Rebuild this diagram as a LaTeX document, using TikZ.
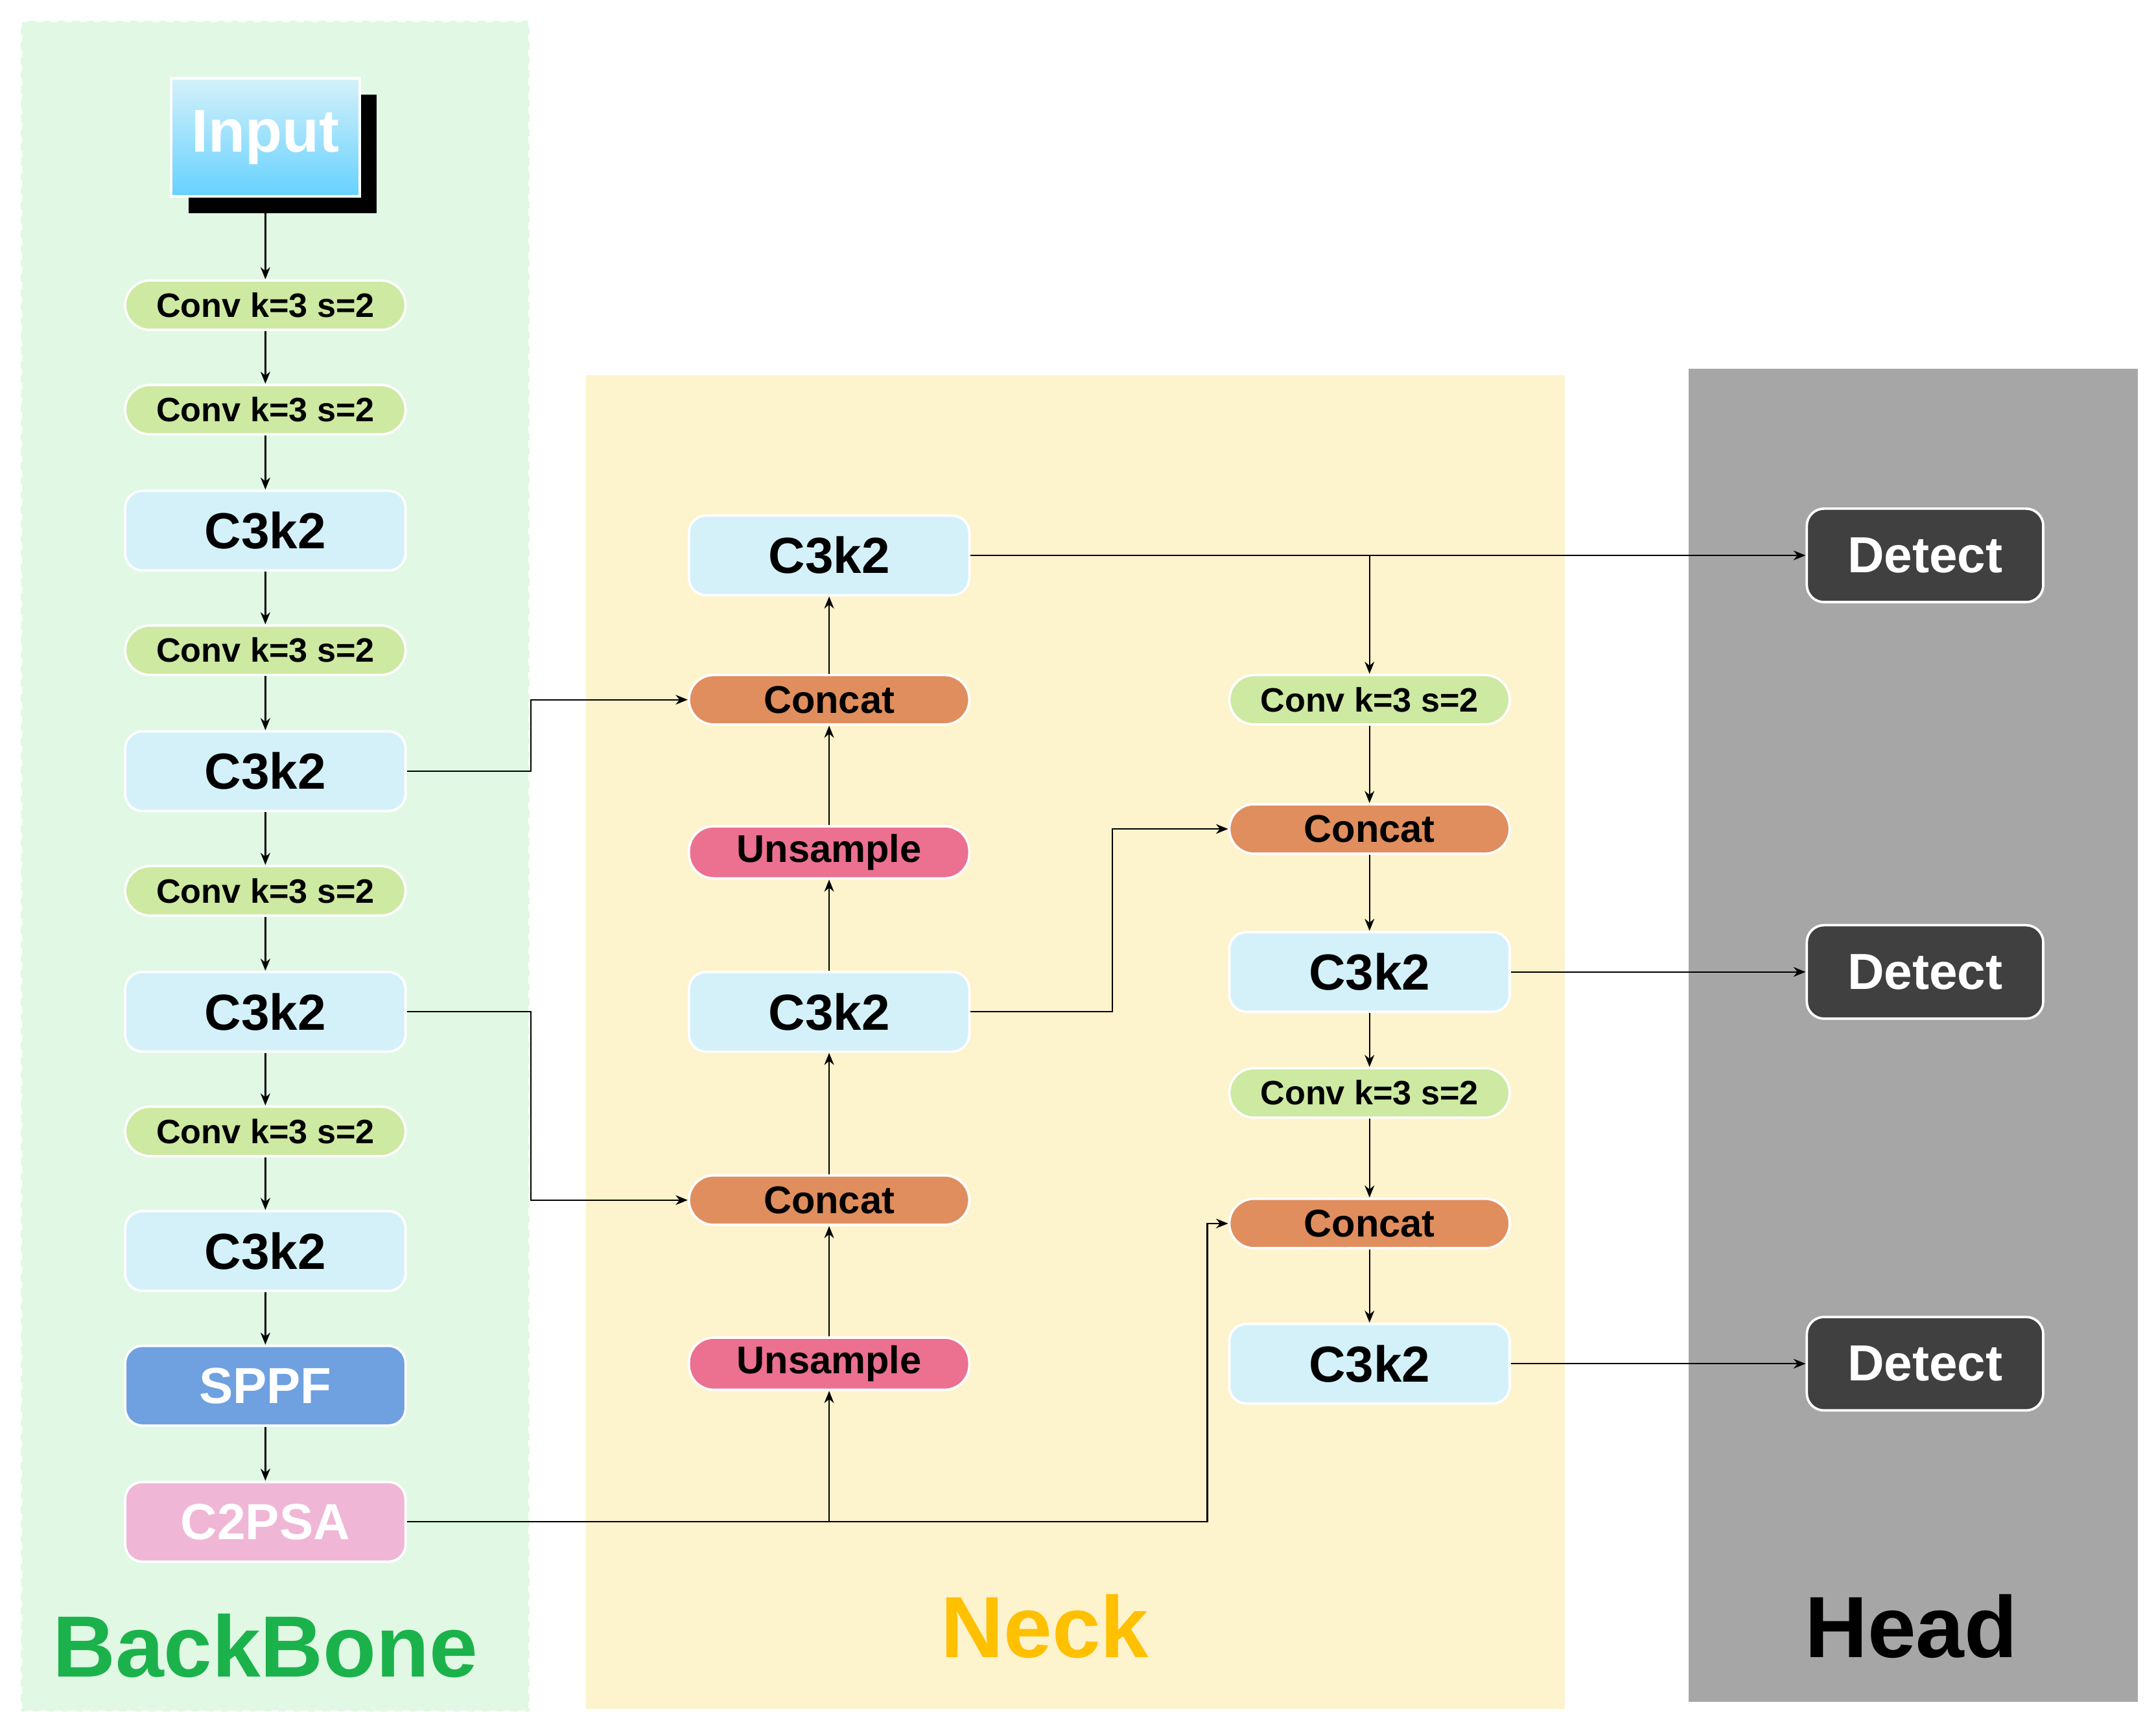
\documentclass[tikz,border=0pt]{standalone}
\usepackage{fontspec}
\setmainfont{Liberation Sans}
\usetikzlibrary{arrows.meta,shadows}
\definecolor{bbg}{HTML}{E0F8E4}
\definecolor{nbg}{HTML}{FDF3CC}
\definecolor{hbg}{HTML}{A6A6A6}
\definecolor{convc}{HTML}{CDE9A2}
\definecolor{c3c}{HTML}{D4F1FA}
\definecolor{catc}{HTML}{E08E5E}
\definecolor{upc}{HTML}{EC7090}
\definecolor{sppfc}{HTML}{6FA0E0}
\definecolor{psac}{HTML}{F0B6D6}
\definecolor{detc}{HTML}{404040}
\begin{document}
\begin{tikzpicture}[x=0.02cm,y=-0.02cm,
  box/.style={draw=white,line width=1pt,minimum width=4.08cm,font=\bfseries},
  conv/.style={box,fill=convc,rounded corners=0.36cm,minimum height=0.72cm,font=\bfseries\fontsize{14}{14}\selectfont},
  c3/.style={box,fill=c3c,rounded corners=0.25cm,minimum height=1.16cm,font=\bfseries\fontsize{21}{21}\selectfont},
  cat/.style={conv,fill=catc,font=\bfseries\fontsize{16}{16}\selectfont},
  up/.style={cat,fill=upc},
  det/.style={box,fill=detc,text=white,rounded corners=0.25cm,minimum width=3.44cm,minimum height=1.36cm,font=\bfseries\fontsize{21}{21}\selectfont},
  ar/.style={-{Stealth[length=5pt,width=4pt]},line width=0.6pt},
  big/.style={font=\bfseries\fontsize{36}{36}\selectfont}]
\useasboundingbox (0,0) rectangle (1568,1259);
\fill[bbg] (15,15) rectangle (385,1245);
\draw[white,dashed,line width=1pt] (15,15) rectangle (385,1245);
\fill[nbg] (426,273) rectangle (1138,1243);
\fill[hbg] (1228,268) rectangle (1555,1238);
% backbone
\fill[black] (137,69) rectangle (274,155);
\node[draw=white,line width=1pt,minimum width=2.74cm,minimum height=1.72cm,top color=c3c,bottom color=cyan!70!blue!60,text=white,font=\bfseries\fontsize{25}{25}\selectfont] (in) at (193,100) {Input};
\node[conv] (b1) at (193,222) {Conv k=3 s=2};
\node[conv] (b2) at (193,298) {Conv k=3 s=2};
\node[c3] (b3) at (193,386) {C3k2};
\node[conv] (b4) at (193,473) {Conv k=3 s=2};
\node[c3] (b5) at (193,561) {C3k2};
\node[conv] (b6) at (193,648) {Conv k=3 s=2};
\node[c3] (b7) at (193,736) {C3k2};
\node[conv] (b8) at (193,823) {Conv k=3 s=2};
\node[c3] (b9) at (193,910) {C3k2};
\node[c3,fill=sppfc,text=white] (b10) at (193,1008) {SPPF};
\node[c3,fill=psac,text=white] (b11) at (193,1107) {C2PSA};
\node[big,text={rgb,255:red,27;green,178;blue,75}] (lb) at (193,1197) {BackBone};
\foreach \a/\b in {in/b1,b1/b2,b2/b3,b3/b4,b4/b5,b5/b6,b6/b7,b7/b8,b8/b9,b9/b10,b10/b11}
  \draw[ar] (\a) -- (\b);
% neck
\node[c3] (n1) at (603,404) {C3k2};
\node[cat] (n2) at (603,509) {Concat};
\node[up] (n3) at (603,620) {Unsample};
\node[c3] (n4) at (603,736) {C3k2};
\node[cat] (n5) at (603,873) {Concat};
\node[up] (n6) at (603,992) {Unsample};
\node[conv] (m1) at (996,509) {Conv k=3 s=2};
\node[cat] (m2) at (996,603) {Concat};
\node[c3] (m3) at (996,707) {C3k2};
\node[conv] (m4) at (996,795) {Conv k=3 s=2};
\node[cat] (m5) at (996,890) {Concat};
\node[c3] (m6) at (996,992) {C3k2};
\node[big,text={rgb,255:red,255;green,192;blue,0}] (ln) at (760,1183) {Neck};
\foreach \a/\b in {n6/n5,n5/n4,n4/n3,n3/n2,n2/n1,m1/m2,m2/m3,m3/m4,m4/m5,m5/m6}
  \draw[ar] (\a) -- (\b);
% head
\node[det] (d1) at (1400,404) {Detect};
\node[det] (d2) at (1400,707) {Detect};
\node[det] (d3) at (1400,992) {Detect};
\node[big] (lh) at (1390,1183) {Head};
% cross links
\coordinate (j1) at (603,1107);
\coordinate (j2) at (996,404);
\draw[ar] (b5.east) -| (386,509) -- (n2.west);
\draw[ar] (b7.east) -| (386,873) -- (n5.west);
\draw[ar] (b11.east) -- (878,1107) |- (m5.west);
\draw[ar] (j1) -- (n6);
\draw[ar] (n1) -- (d1);
\draw[ar] (j2) -- (m1);
\draw[ar] (n4.east) -| (809,603) -- (m2.west);
\draw[ar] (m3) -- (d2);
\draw[ar] (m6) -- (d3);
\end{tikzpicture}
\end{document}
